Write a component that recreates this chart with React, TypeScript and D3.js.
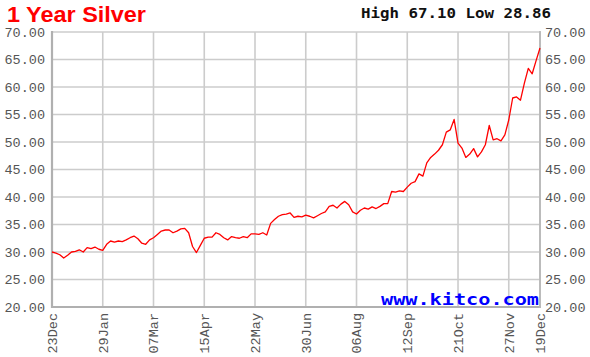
import React from "react";
import * as d3 from "d3";

// Trading-day index of each x-axis gridline and its label
const tickDays = [0, 26, 52, 78, 104, 130, 156, 182, 208, 234, 250];
const tickLabels = ["23Dec", "29Jan", "07Mar", "15Apr", "22May", "30Jun", "06Aug", "12Sep", "21Oct", "27Nov", "19Dec"];
const yTicks = [20, 25, 30, 35, 40, 45, 50, 55, 60, 65, 70];

// Silver price, one value every 2 trading days
const prices = [
  30.0, 29.8, 29.5, 28.9, 29.4, 30.0, 30.1, 30.4, 30.0, 30.8,
  30.6, 30.9, 30.5, 30.3, 31.4, 32.0, 31.8, 32.0, 31.9, 32.2,
  32.6, 32.9, 32.4, 31.6, 31.4, 32.2, 32.6, 33.2, 33.8, 34.0,
  34.0, 33.5, 33.8, 34.2, 34.3, 33.5, 31.0, 29.9, 31.2, 32.5,
  32.7, 32.7, 33.5, 33.2, 32.6, 32.2, 32.8, 32.6, 32.5, 32.8,
  32.6, 33.3, 33.3, 33.2, 33.5, 33.1, 35.2, 35.9, 36.5, 36.8,
  36.9, 37.1, 36.3, 36.5, 36.4, 36.7, 36.5, 36.2, 36.6, 37.0,
  37.3, 38.3, 38.5, 38.0, 38.7, 39.2, 38.6, 37.3, 36.9, 37.6,
  38.0, 37.8, 38.2, 37.9, 38.3, 38.8, 38.8, 41.0, 40.9, 41.1,
  41.0, 41.8, 42.5, 42.8, 44.2, 43.8, 46.2, 47.2, 47.8, 48.5,
  49.5, 51.8, 52.2, 54.1, 49.8, 48.9, 47.2, 47.8, 48.8, 47.3,
  48.2, 49.5, 53.0, 50.4, 50.6, 50.2, 51.3, 54.0, 58.0, 58.2,
  57.6, 60.7, 63.4, 62.4, 64.8, 67.1,
];
const dayStep = 2;

const W = 590;
const H = 357;
const left = 52;
const right = 540;
const top = 32;
const bottom = 307;

export default function App() {
  const x = d3.scaleLinear().domain([0, 250]).range([left, right]);
  const y = d3.scaleLinear().domain([20, 70]).range([bottom, top]);
  const line = d3
    .line<number>()
    .x((_, i) => x(Math.min(i * dayStep, 250)))
    .y((d) => y(d));

  const mono = "'Liberation Mono', 'DejaVu Sans Mono', monospace";
  return (
    <svg
      width={W}
      height={H}
      style={{ position: "absolute", left: 0, top: 0, background: "#fff" }}
    >
      <rect x={0} y={0} width={W} height={H} fill="#fff" />
      <text
        x={7}
        y={21.7}
        fontFamily="'Liberation Sans', Arial, sans-serif"
        fontWeight="bold"
        fontSize={21.5}
        fill="#ff0000"
        textLength={139}
        lengthAdjust="spacingAndGlyphs"
      >
        1 Year Silver
      </text>
      <text
        x={361}
        y={17.5}
        fontFamily="'DejaVu Sans Mono', monospace"
        fontWeight="bold"
        fontSize={14.5}
        fill="#111"
        textLength={190}
        lengthAdjust="spacingAndGlyphs"
      >
        High 67.10 Low 28.86
      </text>

      {/* grid */}
      {yTicks.map((t) => (
        <line key={"gy" + t} x1={left} x2={right} y1={y(t)} y2={y(t)} stroke="#cccccc" strokeWidth={1.6} />
      ))}
      {tickDays.map((d) => (
        <line key={"gx" + d} x1={x(d)} x2={x(d)} y1={top} y2={bottom} stroke="#cccccc" strokeWidth={1.6} />
      ))}
      <line x1={left} x2={left} y1={top - 1} y2={bottom + 1} stroke="#b0b0b0" strokeWidth={2.2} />
      <line x1={left} x2={right + 1} y1={bottom} y2={bottom} stroke="#b0b0b0" strokeWidth={2} />
      <line x1={right} x2={right} y1={top - 1} y2={bottom + 1} stroke="#b8b8b8" strokeWidth={1.8} />

      {/* y labels */}
      {yTicks.map((t) => (
        <g key={"yl" + t} fontFamily={mono} fontSize={13.5} fill="#555">
          <text x={45} y={y(t) + 4.5} textAnchor="end">
            {t.toFixed(2)}
          </text>
          <text x={545} y={y(t) + 4.5} textAnchor="start">
            {t.toFixed(2)}
          </text>
        </g>
      ))}

      {/* x labels */}
      {tickDays.map((d, i) => (
        <text
          key={"xl" + d}
          transform={`translate(${x(d) + 4.8},${313}) rotate(-90)`}
          textAnchor="end"
          fontFamily={mono}
          fontSize={13.5}
          fill="#555"
        >
          {tickLabels[i]}
        </text>
      ))}

      <path d={line(prices) || ""} fill="none" stroke="#ff0000" strokeWidth={1.3} strokeLinejoin="round" />

      <text
        x={539}
        y={305}
        textAnchor="end"
        fontFamily="'DejaVu Sans Mono', monospace"
        fontWeight="bold"
        fontSize={16}
        fill="#0000ff"
        textLength={158}
        lengthAdjust="spacingAndGlyphs"
      >
        www.kitco.com
      </text>
    </svg>
  );
}
